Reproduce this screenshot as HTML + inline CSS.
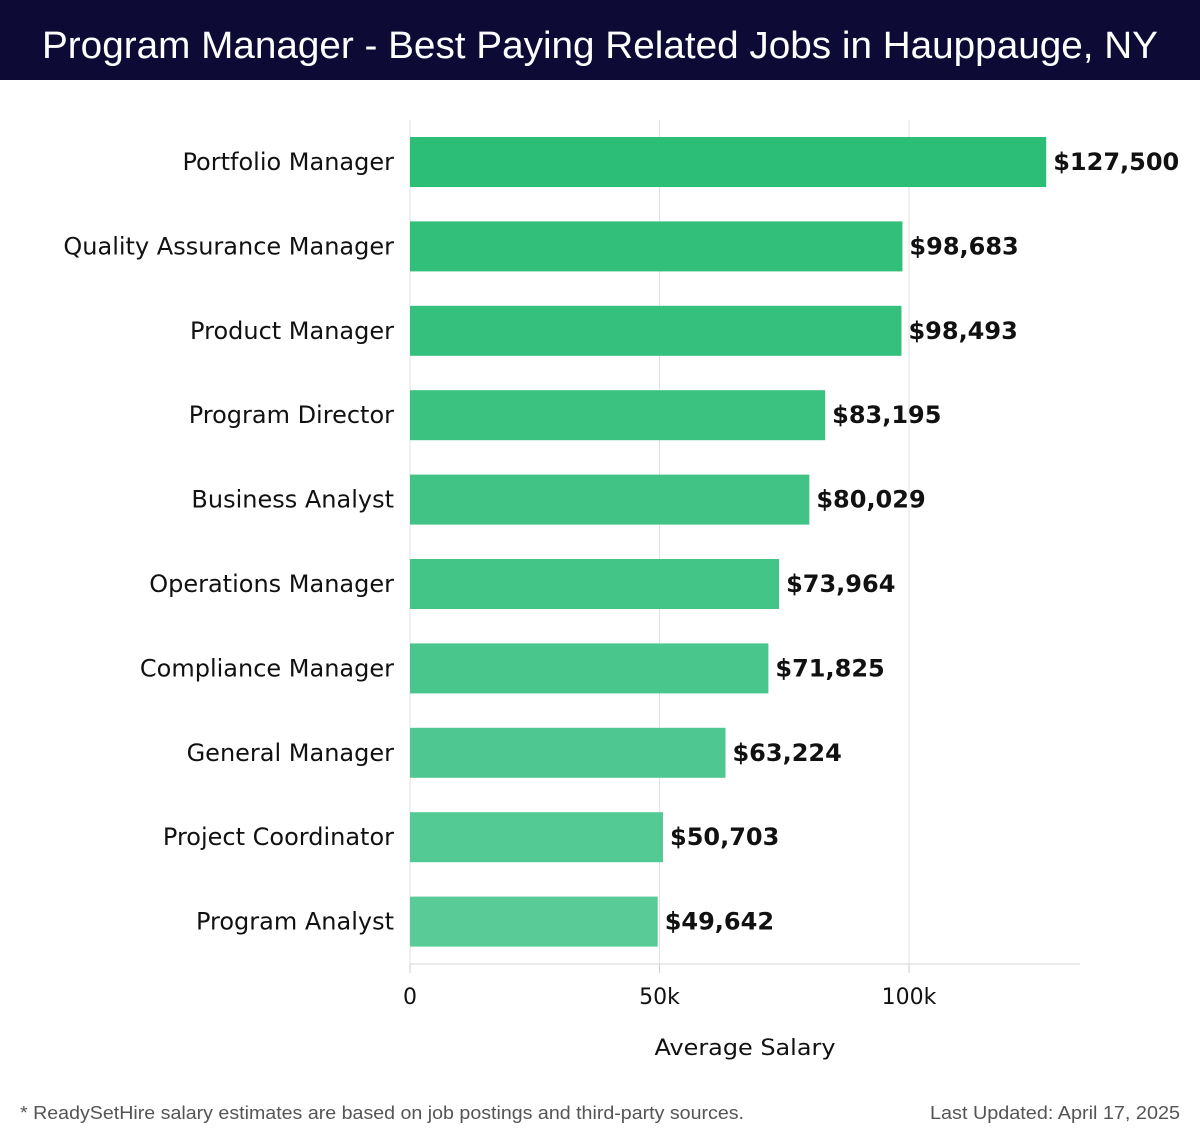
<!DOCTYPE html>
<html><head><meta charset="utf-8"><style>
body{margin:0;background:#fff;width:1200px;height:1140px;overflow:hidden;font-family:"DejaVu Sans","Liberation Sans",sans-serif}
</style></head><body>
<svg id="chart" width="1200" height="1140" xmlns="http://www.w3.org/2000/svg">
<rect x="0" y="0" width="1200" height="80" fill="#0d0b36"/>
<text x="600" y="58" text-anchor="middle" fill="#fff" font-size="38" font-family="Liberation Sans" textLength="1116" lengthAdjust="spacingAndGlyphs">Program Manager - Best Paying Related Jobs in Hauppauge, NY</text>
<g id="grid"></g><g id="bars"></g><g id="axis"></g>
<text x="745" y="1055" text-anchor="middle" font-size="22" fill="#111" textLength="181" lengthAdjust="spacingAndGlyphs">Average Salary</text>
<text x="20" y="1119" font-size="18" fill="#555" font-family="Liberation Sans" textLength="724" lengthAdjust="spacingAndGlyphs">* ReadySetHire salary estimates are based on job postings and third-party sources.</text>
<text x="1180" y="1119" text-anchor="end" font-size="18" fill="#555" font-family="Liberation Sans" textLength="250" lengthAdjust="spacingAndGlyphs">Last Updated: April 17, 2025</text>
</svg>
<script>
const categories=["Portfolio Manager","Quality Assurance Manager","Product Manager","Program Director","Business Analyst","Operations Manager","Compliance Manager","General Manager","Project Coordinator","Program Analyst"];
const salaries=[127500,98683,98493,83195,80029,73964,71825,63224,50703,49642];
const tickValues=[0,50000,100000];
const tickLabels=["0","50k","100k"];
const NS="http://www.w3.org/2000/svg";
const x0=410,pxPer=499/100000;
const xs=v=>x0+v*pxPer;
const yTop=137,step=84.4,bh=50;
const ys=i=>yTop+i*step;
function mk(t,a,p){const e=document.createElementNS(NS,t);for(const k in a)e.setAttribute(k,a[k]);p.appendChild(e);return e;}
const grid=document.getElementById('grid'),bars=document.getElementById('bars'),axis=document.getElementById('axis');
tickValues.forEach((v,i)=>{
 const g=mk('line',{x1:xs(v),x2:xs(v),y1:120,y2:964,stroke:'#e2e2e2','stroke-width':1},grid);
 
 
 const tk=mk('line',{x1:xs(v),x2:xs(v),y1:964,y2:973,stroke:'#ccc','stroke-width':1},axis);
 
 
 const t=mk('text',{x:xs(v),y:1004,'text-anchor':'middle','font-size':22,fill:'#111'},axis);
 t.textContent=tickLabels[i];
 
 
});
const al=mk('line',{x1:x0,x2:1080,y1:964,y2:964,stroke:'#d6d6d6','stroke-width':1},axis);


const c0=[44,189,118],c1=[88,203,151];
categories.forEach((c,i)=>{
 const f=i/(categories.length-1);
 const col=`rgb(${c0.map((v,k)=>Math.round(v+(c1[k]-v)*f)).join(',')})`;
 const y=ys(i);
 const r=mk('rect',{x:x0,y:y,width:xs(salaries[i])-x0,height:bh,fill:col},bars);
 
 
 const l=mk('text',{x:394,y:y+bh/2+8,'text-anchor':'end','font-size':24,fill:'#111'},bars);
 l.textContent=c;
 
 
 const v=mk('text',{x:xs(salaries[i])+7,y:y+bh/2+8,'font-size':24,'font-weight':'bold',fill:'#111'},bars);
 v.textContent='$'+salaries[i].toLocaleString('en-US');
 
 
});
</script>
</body></html>
